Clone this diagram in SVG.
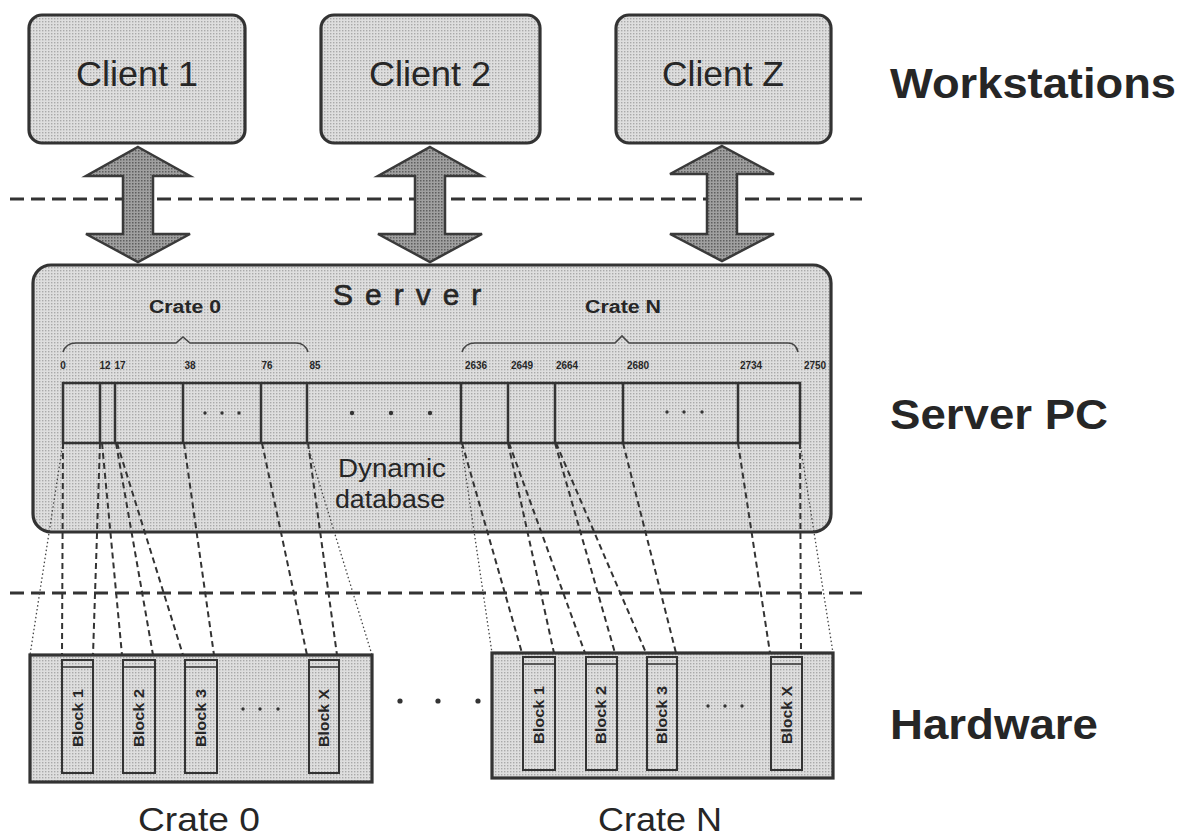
<svg xmlns="http://www.w3.org/2000/svg" width="1185" height="838" viewBox="0 0 1185 838">
<defs>
<pattern id="dots" width="3" height="3" patternUnits="userSpaceOnUse"><rect width="3" height="3" fill="#dedede"/><rect width="1.4" height="1.4" fill="#a9a9a9"/></pattern>
<pattern id="hatch" width="3" height="3" patternUnits="userSpaceOnUse"><rect width="3" height="3" fill="#a0a0a0"/><rect width="1.5" height="1.5" fill="#5e5e5e"/></pattern>
</defs>
<style>
.box{fill:url(#dots);stroke:#333;stroke-width:3.2}
.arrow{fill:url(#hatch);stroke:#3a3a3a;stroke-width:2.5;stroke-linejoin:miter}
.t{font-family:"Liberation Sans",Arial,sans-serif;fill:#262626}
.cl{font-size:35px;text-anchor:middle}
.lab{font-size:42px;font-weight:bold}
.num{font-size:10px;font-weight:bold;text-anchor:middle}
.cr{font-size:18px;font-weight:bold;text-anchor:middle}
.blk{font-size:15px;font-weight:bold;text-anchor:middle}
.sep{stroke:#333;stroke-width:3;stroke-dasharray:14 7;fill:none}
.dash{stroke:#333;stroke-width:2;stroke-dasharray:6 4;fill:none}
.dot{stroke:#444;stroke-width:1.3;stroke-dasharray:1.5 2.5;fill:none}
.div{stroke:#333;stroke-width:2.5}
.brace{fill:none;stroke:#444;stroke-width:1.6}
.pt{fill:#333}
</style>

<g id="separators">
<line class="sep" x1="10" y1="199" x2="862" y2="199"/>
<line class="sep" x1="10" y1="593" x2="862" y2="593"/>
</g>

<g id="client1"><rect class="box" x="29" y="15" width="216" height="128" rx="13"/><text class="t cl" x="137" y="86" textLength="122" lengthAdjust="spacingAndGlyphs">Client 1</text></g>
<g id="client2"><rect class="box" x="321" y="15" width="219" height="128" rx="13"/><text class="t cl" x="430" y="86" textLength="122" lengthAdjust="spacingAndGlyphs">Client 2</text></g>
<g id="clientZ"><rect class="box" x="616" y="15" width="215" height="128" rx="13"/><text class="t cl" x="723" y="86" textLength="122" lengthAdjust="spacingAndGlyphs">Client Z</text></g>

<g id="arrows">
<path class="arrow" d="M138,147 L190,176 L153,176 L153,234 L190,234 L138,262 L86,234 L123,234 L123,176 L86,176 Z"/>
<path class="arrow" d="M430,147 L482,176 L445,176 L445,234 L482,234 L430,262 L378,234 L415,234 L415,176 L378,176 Z"/>
<path class="arrow" d="M722,146 L774,174 L737,174 L737,234 L774,234 L722,261 L670,234 L707,234 L707,174 L670,174 Z"/>
</g>

<g id="server">
<rect class="box" x="33" y="265" width="798" height="267" rx="18"/>
<text class="t" x="333" y="305" font-size="30" letter-spacing="12" stroke="#262626" stroke-width="0.6">Server</text>
<text class="t cr" x="185" y="313" textLength="72" lengthAdjust="spacingAndGlyphs">Crate 0</text>
<text class="t cr" x="623" y="313" textLength="76" lengthAdjust="spacingAndGlyphs">Crate N</text>
<path class="brace" d="M63,352 Q66,343 76,343 L176,343 L183,337 L190,343 L296,343 Q305,343 308,352"/>
<path class="brace" d="M462,352 Q465,343 475,343 L615,343 L622,336 L629,343 L788,343 Q796,343 798,352"/>
<g class="t num">
<text x="63" y="369">0</text><text x="105" y="369">12</text><text x="120" y="369">17</text><text x="190" y="369">38</text><text x="267" y="369">76</text><text x="315" y="369">85</text>
<text x="476" y="369">2636</text><text x="522" y="369">2649</text><text x="567" y="369">2664</text><text x="638" y="369">2680</text><text x="751" y="369">2734</text><text x="815" y="369">2750</text>
</g>
</g>

<g id="database">
<rect x="63" y="383" width="737" height="60" fill="none" stroke="#333" stroke-width="2.5"/>
<g class="div">
<line x1="100" y1="383" x2="100" y2="443"/><line x1="115" y1="383" x2="115" y2="443"/><line x1="183" y1="383" x2="183" y2="443"/><line x1="261" y1="383" x2="261" y2="443"/><line x1="307" y1="383" x2="307" y2="443"/>
<line x1="461" y1="383" x2="461" y2="443"/><line x1="508" y1="383" x2="508" y2="443"/><line x1="555" y1="383" x2="555" y2="443"/><line x1="623" y1="383" x2="623" y2="443"/><line x1="738" y1="383" x2="738" y2="443"/>
</g>
<circle class="pt" cx="205" cy="413" r="1.7"/><circle class="pt" cx="222" cy="413" r="1.7"/><circle class="pt" cx="239" cy="413" r="1.7"/>
<circle class="pt" cx="352" cy="413" r="2.2"/><circle class="pt" cx="391" cy="413" r="2.2"/><circle class="pt" cx="430" cy="413" r="2.2"/>
<circle class="pt" cx="667" cy="412" r="1.7"/><circle class="pt" cx="684" cy="412" r="1.7"/><circle class="pt" cx="702" cy="412" r="1.7"/>
<text class="t" x="392" y="477" font-size="25" text-anchor="middle" textLength="108" lengthAdjust="spacingAndGlyphs">Dynamic</text>
<text class="t" x="390" y="508" font-size="25" text-anchor="middle" textLength="110" lengthAdjust="spacingAndGlyphs">database</text>
</g>

<g id="connectors">
<line class="dot" x1="63" y1="443" x2="30" y2="655"/>
<line class="dash" x1="63" y1="443" x2="62" y2="655"/>
<line class="dash" x1="100" y1="443" x2="93" y2="655"/>
<line class="dash" x1="102" y1="443" x2="122" y2="655"/>
<line class="dash" x1="116" y1="443" x2="153" y2="655"/>
<line class="dash" x1="117" y1="443" x2="183" y2="655"/>
<line class="dash" x1="184" y1="443" x2="214" y2="655"/>
<line class="dash" x1="262" y1="443" x2="307" y2="655"/>
<line class="dash" x1="308" y1="443" x2="337" y2="655"/>
<line class="dot" x1="307" y1="443" x2="372" y2="655"/>
<line class="dot" x1="461" y1="443" x2="492" y2="653"/>
<line class="dash" x1="462" y1="443" x2="522" y2="653"/>
<line class="dash" x1="508" y1="443" x2="554" y2="653"/>
<line class="dash" x1="509" y1="443" x2="585" y2="653"/>
<line class="dash" x1="555" y1="443" x2="615" y2="653"/>
<line class="dash" x1="556" y1="443" x2="646" y2="653"/>
<line class="dash" x1="623" y1="443" x2="676" y2="653"/>
<line class="dash" x1="738" y1="443" x2="770" y2="653"/>
<line class="dash" x1="800" y1="443" x2="801" y2="653"/>
<line class="dot" x1="800" y1="443" x2="833" y2="653"/>
</g>

<g id="crate0">
<rect class="box" x="30" y="655" width="342" height="127" stroke-width="3.8"/>
<g class="box" style="stroke-width:2">
<rect x="62" y="660" width="31" height="113"/><rect x="123" y="660" width="32" height="113"/><rect x="185" y="660" width="32" height="113"/><rect x="309" y="660" width="30" height="113"/>
</g>
<g stroke="#333" stroke-width="1.5"><line x1="62" y1="667" x2="93" y2="667"/><line x1="123" y1="667" x2="155" y2="667"/><line x1="185" y1="667" x2="217" y2="667"/><line x1="309" y1="667" x2="339" y2="667"/></g>
<text class="t blk" transform="translate(83,718) rotate(-90)" textLength="58" lengthAdjust="spacingAndGlyphs">Block 1</text>
<text class="t blk" transform="translate(144,718) rotate(-90)" textLength="58" lengthAdjust="spacingAndGlyphs">Block 2</text>
<text class="t blk" transform="translate(206,718) rotate(-90)" textLength="58" lengthAdjust="spacingAndGlyphs">Block 3</text>
<text class="t blk" transform="translate(329,718) rotate(-90)" textLength="58" lengthAdjust="spacingAndGlyphs">Block X</text>
<circle class="pt" cx="243" cy="709" r="1.7"/><circle class="pt" cx="260" cy="709" r="1.7"/><circle class="pt" cx="278" cy="709" r="1.7"/>
<text class="t" x="199" y="831" font-size="34" text-anchor="middle" textLength="122" lengthAdjust="spacingAndGlyphs">Crate 0</text>
</g>

<g id="crateN">
<rect class="box" x="492" y="653" width="341" height="125" stroke-width="3.8"/>
<g class="box" style="stroke-width:2">
<rect x="523" y="657" width="32" height="113"/><rect x="586" y="657" width="31" height="113"/><rect x="647" y="657" width="30" height="113"/><rect x="771" y="657" width="31" height="113"/>
</g>
<g stroke="#333" stroke-width="1.5"><line x1="523" y1="664" x2="555" y2="664"/><line x1="586" y1="664" x2="617" y2="664"/><line x1="647" y1="664" x2="677" y2="664"/><line x1="771" y1="664" x2="802" y2="664"/></g>
<text class="t blk" transform="translate(544,715) rotate(-90)" textLength="58" lengthAdjust="spacingAndGlyphs">Block 1</text>
<text class="t blk" transform="translate(606,715) rotate(-90)" textLength="58" lengthAdjust="spacingAndGlyphs">Block 2</text>
<text class="t blk" transform="translate(667,715) rotate(-90)" textLength="58" lengthAdjust="spacingAndGlyphs">Block 3</text>
<text class="t blk" transform="translate(792,715) rotate(-90)" textLength="58" lengthAdjust="spacingAndGlyphs">Block X</text>
<circle class="pt" cx="708" cy="706" r="1.7"/><circle class="pt" cx="725" cy="706" r="1.7"/><circle class="pt" cx="742" cy="706" r="1.7"/>
<text class="t" x="660" y="831" font-size="34" text-anchor="middle" textLength="124" lengthAdjust="spacingAndGlyphs">Crate N</text>
</g>

<g id="between-dots"><circle class="pt" cx="400" cy="701" r="2.6"/><circle class="pt" cx="438" cy="701" r="2.6"/><circle class="pt" cx="478" cy="701" r="2.6"/></g>

<g id="labels">
<text class="t lab" x="890" y="98" textLength="286" lengthAdjust="spacingAndGlyphs">Workstations</text>
<text class="t lab" x="890" y="429" textLength="218" lengthAdjust="spacingAndGlyphs">Server PC</text>
<text class="t lab" x="890" y="739" textLength="208" lengthAdjust="spacingAndGlyphs">Hardware</text>
</g>
</svg>
